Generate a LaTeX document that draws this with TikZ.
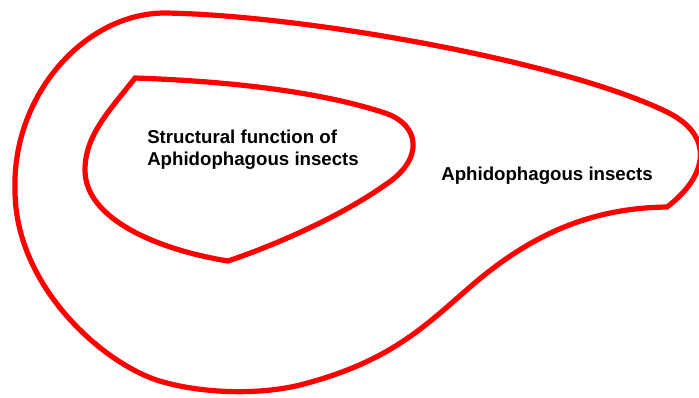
\documentclass[tikz,border=0pt]{standalone}
\usepackage{fontspec}
\setmainfont{Liberation Sans}

\begin{document}
\begin{tikzpicture}[x=0.75pt,y=-0.75pt,
  setline/.style={draw=red,line width=3.9pt},
  setlabel/.style={font=\fontsize{14}{16.5}\selectfont\bfseries,inner sep=0pt,align=left,anchor=base west}]
  \useasboundingbox (0,0) rectangle (699,397);
%outer set
  \draw[setline] (167,383) .. controls (110,370) and (15,290) .. (15,190)
    .. controls (12,95) and (85,13) .. (165,13)
    .. controls (300,15) and (560,60) .. (667,112)
    .. controls (714,135) and (709,175) .. (667,207)%right kink
    .. controls (590,208) and (530,235) .. (470,287)
    .. controls (425,326) and (390,362) .. (300,385)
    .. controls (255,396) and (200,392) .. (167,383) -- cycle;
%inner set
  \draw[setline] (135,78) .. controls (250,82) and (330,95) .. (385,113)
    .. controls (421,125) and (424,160) .. (385,185)
    .. controls (350,210) and (290,240) .. (228,261)%lower kink
    .. controls (160,250) and (85,220) .. (85,170)
    .. controls (85,135) and (110,110) .. (135,78) -- cycle;
%set names
  \node[setlabel] (inner) at (147,165) {Structural function of\\Aphidophagous insects};
  \node[setlabel] (outer) at (441,180) {Aphidophagous insects};
\end{tikzpicture}
\end{document}
